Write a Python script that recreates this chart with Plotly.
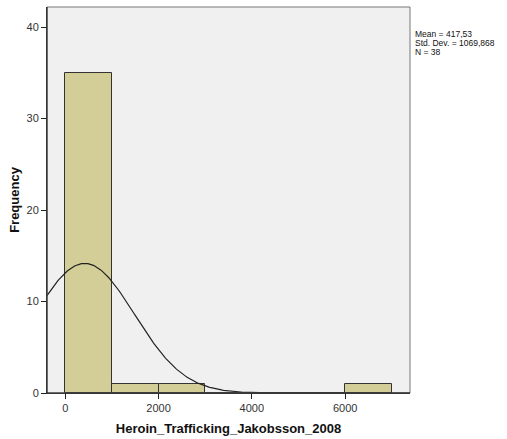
import numpy as np
import plotly.graph_objects as go

# Histogram bins (lower edges) and frequencies
bin_starts = [0, 1000, 2000, 3000, 4000, 5000, 6000]
bin_width = 1000
frequencies = [35, 1, 1, 0, 0, 0, 1]

# Summary statistics
mean_val = 417.53
std_val = 1069.868
n_obs = 38

x_ticks = [0, 2000, 4000, 6000]
y_ticks = [0, 10, 20, 30, 40]

x_range = [-390, 7390]
y_range = [0, 42.2]

W, H = 507, 439
M_L, M_R, M_T, M_B = 47, 97, 7, 46
plot_h = H - M_T - M_B

fig = go.Figure()

centers = [s + bin_width / 2 for s in bin_starts]
fig.add_trace(go.Bar(
    x=centers,
    y=frequencies,
    width=bin_width,
    marker=dict(color="#D3CE97", line=dict(color="#333333", width=1)),
    hoverinfo="skip",
))

# Normal curve scaled to counts
xs = np.linspace(x_range[0], x_range[1], 400)
ys = n_obs * bin_width * np.exp(-0.5 * ((xs - mean_val) / std_val) ** 2) / (std_val * np.sqrt(2 * np.pi))
fig.add_trace(go.Scatter(
    x=xs, y=ys, mode="lines",
    line=dict(color="#222222", width=1.2),
    hoverinfo="skip",
))

font_family = "Liberation Sans, Arial, sans-serif"

fig.update_layout(
    width=W, height=H,
    margin=dict(l=M_L, r=M_R, t=M_T, b=M_B, autoexpand=False),
    paper_bgcolor="white",
    plot_bgcolor="#F0F0F0",
    showlegend=False,
    bargap=0,
    font=dict(family=font_family, size=11, color="#333333"),
    xaxis=dict(
        range=x_range, tickvals=x_ticks, ticktext=[str(v) for v in x_ticks],
        showgrid=False, zeroline=False, automargin=False,
        showline=True, linecolor="#222222", linewidth=1,
        ticks="outside", ticklen=5, tickcolor="#222222",
        tickfont=dict(size=11, color="#333333"),
        title=dict(text="<b>Heroin_Trafficking_Jakobsson_2008</b>",
                   font=dict(size=13, color="#111111"), standoff=10),
    ),
    yaxis=dict(
        range=y_range, tickvals=y_ticks,
        showgrid=False, zeroline=False, automargin=False,
        showline=True, linecolor="#222222", linewidth=1,
        ticks="outside", ticklen=5, tickcolor="#222222",
        tickfont=dict(size=11, color="#333333"),
        title=dict(text="<b>Frequency</b>", font=dict(size=13, color="#111111"), standoff=3),
    ),
)

# Plot frame (top and right edges lighter, axes darker)
fig.add_shape(type="rect", xref="paper", yref="paper", x0=0, y0=0, x1=1, y1=1,
              line=dict(color="#777777", width=1), fillcolor="rgba(0,0,0,0)", layer="above")
fig.add_shape(type="line", xref="paper", yref="paper", x0=0, y0=0, x1=0, y1=1,
              line=dict(color="#222222", width=1), layer="above")
fig.add_shape(type="line", xref="paper", yref="paper", x0=0, y0=0, x1=1, y1=0,
              line=dict(color="#222222", width=1), layer="above")

# Statistics box to the right of the plot (decimal comma)
def fmt(v, digits):
    return f"{v:.{digits}f}".replace(".", ",")

stat_lines = [
    "Mean = " + fmt(mean_val, 2),
    "Std. Dev. = " + fmt(std_val, 3),
    f"N = {n_obs}",
]
for i, txt in enumerate(stat_lines):
    y_px = 34 + 9 * i
    fig.add_annotation(
        text=txt, xref="paper", yref="paper",
        x=1.0, xshift=3, y=1 - (y_px - M_T) / plot_h,
        xanchor="left", yanchor="middle", showarrow=False,
        font=dict(size=8.5, color="#111111", family=font_family),
    )

fig.write_html("out.html")
